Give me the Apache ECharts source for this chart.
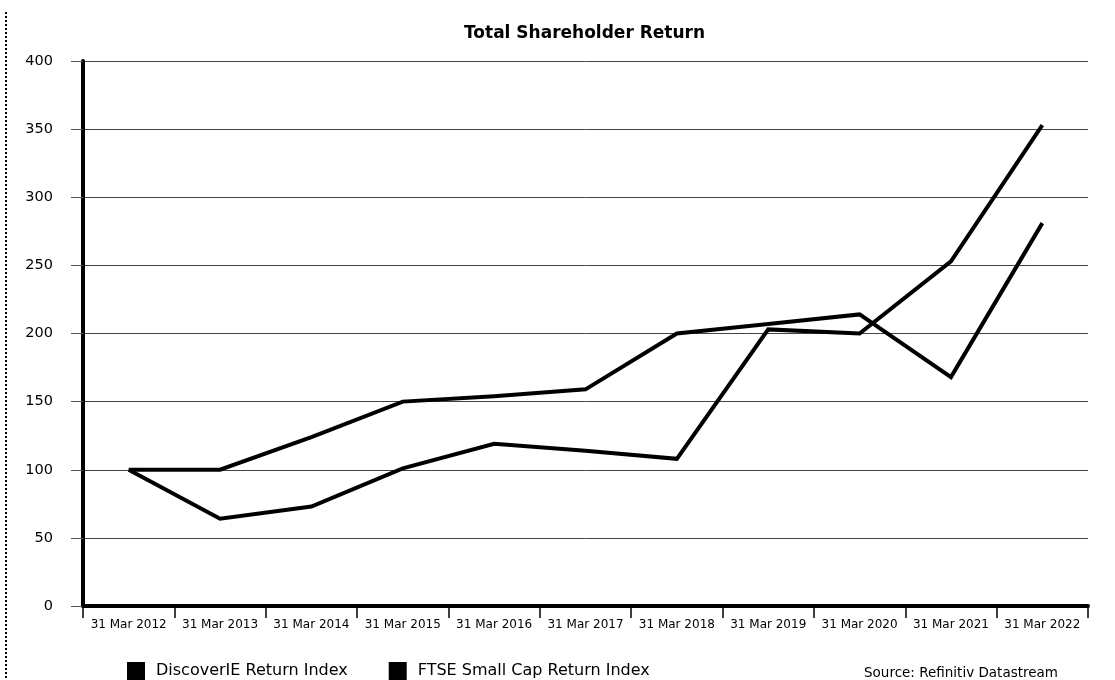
<!DOCTYPE html>
<html>
<head>
<meta charset="utf-8">
<title>Total Shareholder Return</title>
<script src="https://cdn.jsdelivr.net/npm/echarts@6/dist/echarts.min.js"></script>
<style>
  html, body { margin: 0; padding: 0; background: #fff; }
  #chart { width: 1115px; height: 680px; }
</style>
</head>
<body>
<div id="chart"></div>
<script>
// Financial year-end dates (x axis categories)
const years = [
  '31 Mar 2012', '31 Mar 2013', '31 Mar 2014', '31 Mar 2015', '31 Mar 2016',
  '31 Mar 2017', '31 Mar 2018', '31 Mar 2019', '31 Mar 2020', '31 Mar 2021', '31 Mar 2022'
];

// Value of 100 invested on 31 Mar 2012
const discoverieReturn = [100, 64, 73, 101, 119, 114, 108, 203, 200, 253, 353];
const ftseSmallCapReturn = [100, 100, 124, 150, 154, 159, 200, 207, 214, 168, 281];

const seriesNames = ['DiscoverIE Return Index', 'FTSE Small Cap Return Index'];
const chartTitle = 'Total Shareholder Return';
const sourceNote = 'Source: Refinitiv Datastream';

const FONT = '"DejaVu Sans", sans-serif';

const chart = echarts.init(document.getElementById('chart'), null, { renderer: 'canvas' });

const lineStyle = { color: '#000', width: 4, join: 'miter' };

chart.setOption({
  backgroundColor: '#fff',
  animation: false,
  title: {
    text: chartTitle,
    left: 459,
    top: 20,
    textStyle: { fontFamily: FONT, fontWeight: 'bold', fontSize: 17, color: '#000' }
  },
  legend: {
    data: seriesNames,
    left: 122,
    top: 657,
    icon: 'rect',
    itemWidth: 18,
    itemHeight: 18,
    itemGap: 41,
    textStyle: { fontFamily: FONT, fontSize: 16, color: '#000', padding: [6, 0, 0, 6] }
  },
  grid: { left: 83, right: 27, top: 61, bottom: 74 },
  xAxis: {
    type: 'category',
    data: years,
    boundaryGap: true,
    axisLine: { lineStyle: { color: '#000', width: 4 } },
    axisTick: { show: true, length: 12, lineStyle: { color: '#000', width: 1.5 } },
    axisLabel: { interval: 0, margin: 13, fontFamily: FONT, fontSize: 12, color: '#000' },
    splitLine: { show: false }
  },
  yAxis: {
    type: 'value',
    min: 0,
    max: 400,
    interval: 50,
    axisLine: { show: true, lineStyle: { color: '#000', width: 4 } },
    axisTick: { show: true, length: 12, lineStyle: { color: '#555', width: 1 } },
    axisLabel: { margin: 30, fontFamily: FONT, fontSize: 14.5, color: '#000' },
    splitLine: { show: true, lineStyle: { color: '#444', width: 1 } }
  },
  series: [
    {
      name: seriesNames[0],
      type: 'line',
      data: discoverieReturn,
      showSymbol: false,
      symbol: 'none',
      color: '#000',
      lineStyle: lineStyle,
      z: 3
    },
    {
      name: seriesNames[1],
      type: 'line',
      data: ftseSmallCapReturn,
      showSymbol: false,
      symbol: 'none',
      color: '#000',
      lineStyle: lineStyle,
      z: 3
    }
  ],
  graphic: [
    {
      type: 'line',
      shape: { x1: 6, y1: 12, x2: 6, y2: 680 },
      style: { stroke: '#000', lineWidth: 2, lineDash: [2, 2] },
      silent: true
    },
    {
      type: 'text',
      left: 864,
      top: 666,
      style: { text: sourceNote, fontFamily: FONT, fontSize: 13.5, fill: '#000' },
      silent: true
    }
  ]
});
</script>
</body>
</html>
